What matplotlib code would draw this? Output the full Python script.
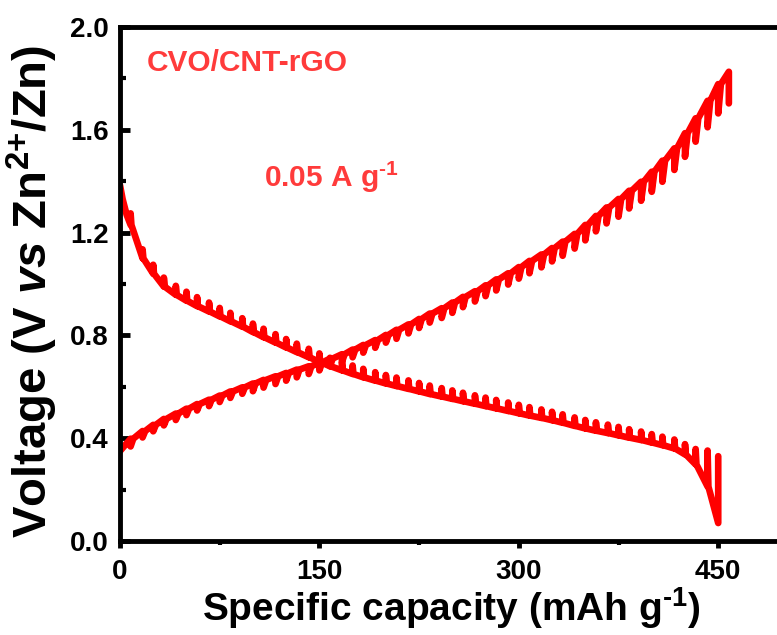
import matplotlib.pyplot as plt
from matplotlib.ticker import MultipleLocator
plt.switch_backend('Agg')
plt.rcParams["font.family"] = ["Liberation Sans", "DejaVu Sans"]
plt.rcParams["font.weight"] = "bold"
plt.rcParams["mathtext.fontset"] = "custom"
plt.rcParams["mathtext.rm"] = "Liberation Sans:bold"
plt.rcParams["mathtext.it"] = "Liberation Sans:bold:italic"
plt.rcParams["mathtext.bf"] = "Liberation Sans:bold"

# GITT discharge: start of curve, then capacity / voltage at end of each pulse and relaxation rise
dis_head_cap = [0, 2, 5]
dis_head_v = [1.385, 1.33, 1.27]
dis_cap = [8, 17, 25, 33, 42, 50, 58, 67, 75, 83, 92, 100,
           108, 117, 125, 133, 142, 150, 158, 167, 175, 183, 192, 200,
           208, 217, 225, 233, 242, 250, 258, 267, 275, 283, 292, 300,
           308, 317, 325, 333, 342, 350, 358, 367, 375, 383, 392, 400,
           408, 417, 425, 433, 442, 450]
dis_v = [1.23, 1.10, 1.04, 0.99, 0.958, 0.935, 0.914, 0.893, 0.874, 0.855, 0.834, 0.813,
         0.793, 0.772, 0.753, 0.735, 0.715, 0.697, 0.68, 0.664, 0.65, 0.637, 0.624, 0.613,
         0.603, 0.592, 0.582, 0.572, 0.562, 0.553, 0.544, 0.534, 0.525, 0.516, 0.506, 0.497,
         0.488, 0.479, 0.47, 0.46, 0.448, 0.438, 0.429, 0.42, 0.411, 0.402, 0.393, 0.383,
         0.373, 0.36, 0.337, 0.298, 0.212, 0.07]
dis_relax = [0.045, 0.035, 0.035, 0.035, 0.035, 0.035, 0.035, 0.035, 0.033, 0.033, 0.033, 0.033,
             0.033, 0.033, 0.033, 0.033, 0.033, 0.033, 0.033, 0.033, 0.033, 0.033, 0.033, 0.033,
             0.033, 0.033, 0.033, 0.033, 0.033, 0.033, 0.033, 0.033, 0.033, 0.033, 0.033, 0.033,
             0.033, 0.033, 0.033, 0.033, 0.033, 0.033, 0.033, 0.033, 0.033, 0.033, 0.033, 0.033,
             0.033, 0.035, 0.04, 0.06, 0.14, 0.26]

# GITT charge
chg_head_cap = [0]
chg_head_v = [0.35]
chg_cap = [8, 17, 25, 33, 42, 50, 58, 67, 75, 83, 92,
           100, 108, 117, 125, 133, 142, 150, 158, 167, 175, 183, 192, 200,
           208, 217, 225, 233, 242, 250, 258, 267, 275, 283, 292, 300,
           308, 317, 325, 333, 342, 350, 358,
           366, 375, 383, 392, 400, 408, 417, 425, 433, 442, 450, 458]
chg_v = [0.398, 0.428, 0.452, 0.475, 0.496, 0.515, 0.533, 0.55, 0.566, 0.582, 0.598,
         0.613, 0.627, 0.641, 0.654, 0.667, 0.68, 0.694, 0.71, 0.727, 0.745, 0.763, 0.782, 0.802,
         0.822, 0.843, 0.864, 0.885, 0.906, 0.928, 0.95, 0.972, 0.995, 1.018, 1.042, 1.066,
         1.09, 1.115, 1.14, 1.165, 1.195, 1.23, 1.265,
         1.298, 1.331, 1.363, 1.398, 1.437, 1.48, 1.528, 1.587, 1.645, 1.713, 1.778, 1.826]
chg_relax = [0.03, 0.025, 0.025, 0.025, 0.025, 0.025, 0.025, 0.025, 0.025, 0.025, 0.025,
             0.03, 0.03, 0.03, 0.03, 0.03, 0.03, 0.03, 0.03, 0.03, 0.03, 0.03, 0.03, 0.03,
             0.035, 0.035, 0.035, 0.035, 0.038, 0.04, 0.04, 0.04, 0.042, 0.043, 0.044, 0.045,
             0.048, 0.05, 0.052, 0.055, 0.057, 0.06, 0.06,
             0.062, 0.069, 0.069, 0.074, 0.078, 0.082, 0.084, 0.092, 0.091, 0.103, 0.114, 0.123]


def gitt_path(head_x, head_y, caps, vs, relax, sign, lag):
    xs = list(head_x)
    ys = list(head_y)
    for i in range(len(caps)):
        xs += [caps[i], caps[i]]
        ys += [vs[i], vs[i] + sign * relax[i]]
        if i < len(caps) - 1:
            xs.append(caps[i] + lag)
            ys.append(vs[i])
    return xs, ys


fig = plt.figure(figsize=(7.77, 6.35), dpi=100)
ax = fig.add_axes([0.1544, 0.148, 0.8555, 0.8094])

x1, y1 = gitt_path(dis_head_cap, dis_head_v, dis_cap, dis_v, dis_relax, 1, 0.6)
x2, y2 = gitt_path(chg_head_cap, chg_head_v, chg_cap, chg_v, chg_relax, -1, 2.0)
ax.plot(x1, y1, color="#FF0000", lw=4.8, solid_joinstyle="round", solid_capstyle="round")
ax.plot(x2, y2, color="#FF0000", lw=4.8, solid_joinstyle="round", solid_capstyle="round")

ax.set_xlim(0, 500)
ax.set_ylim(0, 2.0)
ax.xaxis.set_major_locator(MultipleLocator(150))
ax.xaxis.set_minor_locator(MultipleLocator(75))
ax.yaxis.set_major_locator(MultipleLocator(0.4))
ax.yaxis.set_minor_locator(MultipleLocator(0.2))
ax.yaxis.set_major_formatter(plt.FormatStrFormatter("%.1f"))
for s in ax.spines.values():
    s.set_linewidth(3.5)
ax.tick_params(axis="x", which="major", direction="out", length=5, width=3.5, labelsize=20, pad=8)
ax.tick_params(axis="x", which="minor", direction="out", length=3, width=3)
ax.tick_params(axis="y", which="major", direction="in", length=7, width=3.5, labelsize=20, pad=8)
ax.tick_params(axis="y", which="minor", direction="in", length=4, width=3)

ax.set_xlabel("Specific capacity (mAh g$^{\\text{-1}}$)", fontsize=28, fontweight="bold")
ax.set_ylabel("Voltage (V $\\mathit{vs}$ Zn$^{\\text{2+}}$/Zn)", fontsize=34, fontweight="bold")
ax.yaxis.set_label_coords(-0.09, 0.485)
ax.xaxis.set_label_coords(0.498, -0.085)

ax.text(20, 1.862, "CVO/CNT-rGO", color="#FF3B3B", fontsize=21.5, fontweight="bold", va="center")
ax.text(108, 1.416, "0.05 A g$^{\\text{-1}}$", color="#FF3B3B", fontsize=21.5, fontweight="bold", va="center")

plt.savefig("out.png", dpi=100)
